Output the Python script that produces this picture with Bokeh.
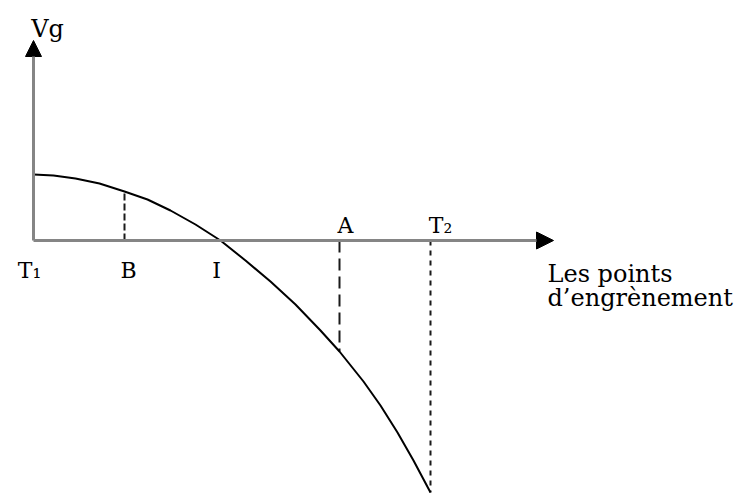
from bokeh.plotting import figure
from bokeh.models import Range1d, Arrow, NormalHead, ColumnDataSource
from bokeh.core.properties import value
from bokeh.embed import file_html
from bokeh.resources import INLINE

# ---- data ----
curve_x = [0, 20, 42, 66, 91, 114, 137, 162, 187, 212, 237, 262, 287, 306, 330, 347, 364, 380, 397]
curve_y = [66, 65, 62, 57, 49, 41, 30, 16, 0, -20, -41, -64, -90, -111, -141, -165, -192, -220, -252]

point_names = ["T₁", "B", "I", "A", "T₂"]
point_x = [0, 91, 187, 306, 397]
drop_x = [91, 306, 397]
drop_y = [49, -111, -252]
drop_dash = ["7 3", "12 6", "5 5"]

label_dx = [-4, 4, -4, 6, 10]
label_dy = [30, 30, 30, -15, -15]

axis_x_end = 520
axis_y_end = 200

W, H = 750, 495
p = figure(width=W, height=H, output_backend="svg", toolbar_location=None,
           x_range=Range1d(-33, -33 + W), y_range=Range1d(240 - H, 240),
           x_axis_type=None, y_axis_type=None,
           min_border=0, min_border_left=0, min_border_right=0,
           min_border_top=0, min_border_bottom=0)
p.grid.visible = False
p.outline_line_color = None
p.background_fill_color = "white"
p.border_fill_color = "white"

serif = value("DejaVu Serif")
axis_col = "#858585"

# axes with arrow heads
p.add_layout(Arrow(x_start=0, y_start=0, x_end=0, y_end=axis_y_end,
                   line_color=axis_col, line_width=3,
                   end=NormalHead(size=16, fill_color="black", line_color="black", line_width=1)))
p.add_layout(Arrow(x_start=0, y_start=0, x_end=axis_x_end, y_end=0,
                   line_color=axis_col, line_width=3,
                   end=NormalHead(size=17, fill_color="black", line_color="black", line_width=1)))

# dashed drop lines
for x, y, d in zip(drop_x, drop_y, drop_dash):
    p.segment(x0=[x], y0=[0], x1=[x], y1=[y], line_color="#1a1a1a", line_width=2, line_dash=d)

# curve
p.line(curve_x, curve_y, line_color="black", line_width=2, line_join="round")

# point labels
src = ColumnDataSource(dict(x=point_x, y=[0] * len(point_x), t=point_names,
                            dx=label_dx, dy=label_dy))
p.text(x="x", y="y", text="t", x_offset="dx", y_offset="dy", source=src,
       text_font=serif, text_font_size="22px", text_align="center",
       text_baseline="alphabetic", text_color="black")

# axis titles
p.text(x=[14], y=[axis_y_end], text=["Vg"], y_offset=[-12], text_font=serif,
       text_font_size="24px", text_align="center", text_baseline="alphabetic",
       text_color="black")
p.text(x=[axis_x_end - 6, axis_x_end - 6], y=[0, 0],
       text=["Les points", "d’engrènement"], y_offset=[33, 57],
       text_font=serif, text_font_size="24px", text_align="left",
       text_baseline="alphabetic", text_color="black")

open("out.html", "w").write(file_html(p, INLINE))
